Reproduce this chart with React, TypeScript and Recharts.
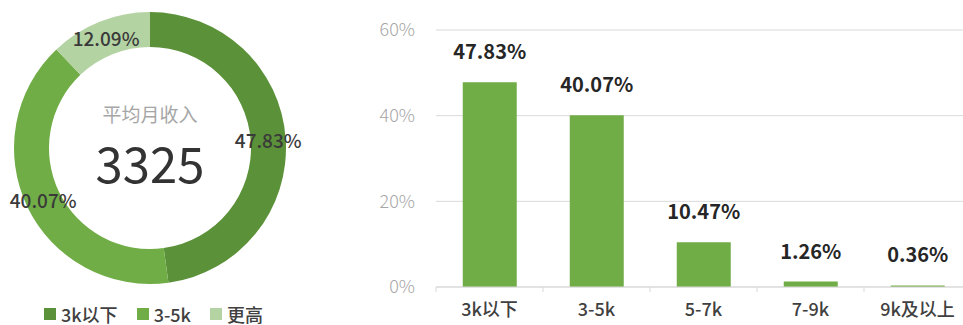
import { PieChart, Pie, Cell, Legend, BarChart, Bar, XAxis, YAxis, CartesianGrid, LabelList } from 'recharts';

const pieNames = ['3k以下', '3-5k', '更高'];
const pieValues = [47.83, 40.07, 12.09];
const pieColors = ['#5b9139', '#70ad47', '#b4d3a3'];

const barCategories = ['3k以下', '3-5k', '5-7k', '7-9k', '9k及以上'];
const barValues = [47.83, 40.07, 10.47, 1.26, 0.36];
const yTicks = [0, 20, 40, 60];

const font = '"Noto Sans CJK SC", "Noto Sans", sans-serif';

const pieData = pieNames.map((name, i) => ({ name, value: pieValues[i] }));
const barData = barCategories.map((name, i) => ({ name, value: barValues[i] }));

const RAD = Math.PI / 180;

const renderPieLabel = (props: any) => {
  const { cx, cy, midAngle, innerRadius, outerRadius, value } = props;
  const r = (innerRadius + outerRadius) / 2;
  const x = cx + r * Math.cos(-midAngle * RAD);
  const y = cy + r * Math.sin(-midAngle * RAD);
  return (
    <text x={x} y={y} textAnchor="middle" dominantBaseline="central" fill="#3a3a3a" fontSize={19} fontWeight={500} fontFamily={font}>
      {value.toFixed(2)}%
    </text>
  );
};

const renderLegend = () => (
  <div style={{ display: 'flex', fontFamily: font, fontSize: 18, fontWeight: 500, color: '#404040', lineHeight: '18px' }}>
    {pieNames.map((n, i) => (
      <div key={n} style={{ display: 'flex', alignItems: 'center', marginRight: 19 }}>
        <span style={{ width: 12, height: 12, background: pieColors[i], marginRight: 5, display: 'inline-block' }} />
        {n}
      </div>
    ))}
  </div>
);

const XTick = (props: any) => {
  const { x, y, payload } = props;
  const half = payload.offset || 0;
  return (
    <g>
      <line x1={x - half} x2={x - half} y1={y - 15} y2={y - 10} stroke="#d9d9d9" />
      <text x={x} y={y} dy="0.8em" textAnchor="middle" fill="#404040" fontSize={18} fontWeight={500} fontFamily={font}>
        {payload.value}
      </text>
    </g>
  );
};

const App = () => {
  return (
    <div style={{ position: 'absolute', left: 0, top: 0, width: 963, height: 325, overflow: 'hidden', background: '#fff' }}>
      <div style={{ position: 'absolute', left: 0, top: 0 }}>
        <PieChart width={320} height={325} margin={{ top: 0, right: 0, bottom: 0, left: 0 }}>
          <Pie
            data={pieData}
            dataKey="value"
            cx={150}
            cy={148}
            innerRadius={101}
            outerRadius={136}
            startAngle={90}
            endAngle={-270}
            stroke="none"
            label={renderPieLabel}
            labelLine={false}
            isAnimationActive={false}
          >
            {pieData.map((d, i) => (
              <Cell key={d.name} fill={pieColors[i]} />
            ))}
          </Pie>
          <text x={150} y={113} textAnchor="middle" dominantBaseline="central" fill="#a6a6a6" fontSize={19} fontFamily={font}>
            平均月收入
          </text>
          <text x={150} y={161} textAnchor="middle" dominantBaseline="central" fill="#333" fontSize={49} fontFamily={font}>
            3325
          </text>
          <Legend content={renderLegend} wrapperStyle={{ left: 44, top: 305, width: 280 }} />
        </PieChart>
      </div>
      <div style={{ position: 'absolute', left: 330, top: 0 }}>
        <BarChart width={641} height={325} data={barData} margin={{ top: 30, right: 0, bottom: 8, left: 0 }} barCategoryGap="25%">
          <CartesianGrid vertical={false} stroke="#d9d9d9" />
          <XAxis
            dataKey="name"
            height={30}
            axisLine={{ stroke: '#d9d9d9' }}
            tickLine={false}
            tickSize={5}
            tickMargin={10}
            tick={<XTick />}
            interval={0}
          />
          <YAxis
            width={106}
            domain={[0, 60]}
            ticks={yTicks}
            tickFormatter={(v: number) => `${v}%`}
            axisLine={false}
            tickLine={false}
            tickMargin={15}
            tick={{ fill: '#a6a6a6', fontSize: 18, fontFamily: font, fontWeight: 300 }}
          />
          <Bar dataKey="value" fill="#70ad47" isAnimationActive={false}>
            <LabelList
              dataKey="value"
              position="top"
              offset={23}
              formatter={(v: any) => `${Number(v).toFixed(2)}%`}
              style={{ fill: '#262626', fontSize: 20, fontWeight: 700, fontFamily: font }}
            />
          </Bar>
        </BarChart>
      </div>
    </div>
  );
};

export default App;
